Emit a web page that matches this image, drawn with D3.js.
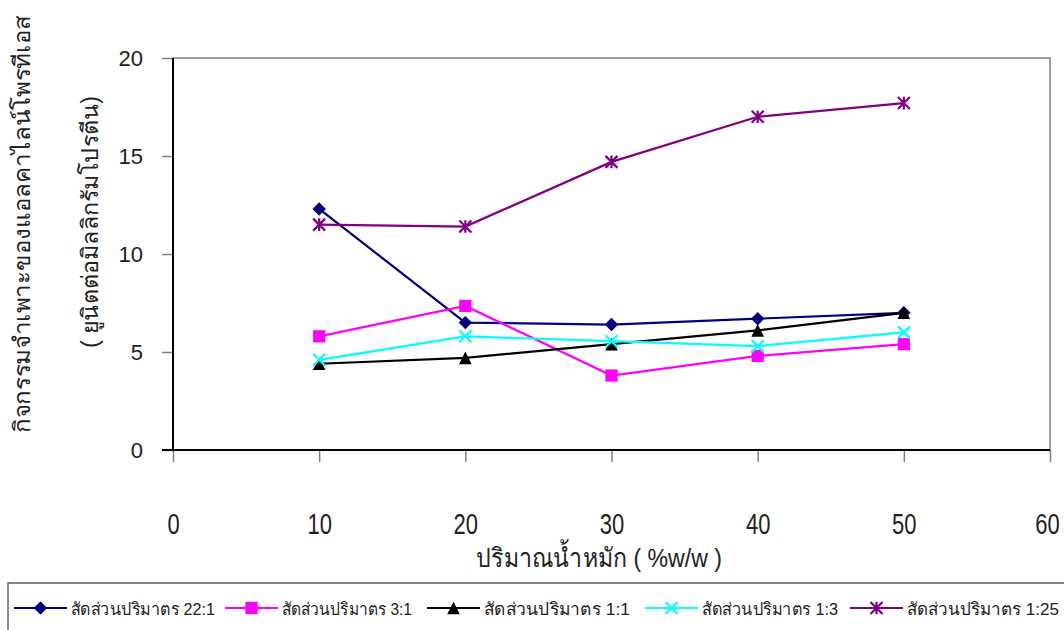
<!DOCTYPE html>
<html>
<head>
<meta charset="utf-8">
<script src="https://cdn.jsdelivr.net/npm/d3@7"></script>
<style>
  html, body { margin: 0; padding: 0; background: #ffffff; }
  svg { display: block; }
  text { font-family: "Liberation Sans", Arial, sans-serif; fill: #222; }
</style>
</head>
<body>
<svg id="chart" width="1064" height="630"></svg>
<script>
// Fermentation weight (%w/w) on the x axis
const weights = [10, 20, 30, 40, 50];

// Specific activity of alkaline protease (units per mg protein) per volume ratio
const ratio22to1 = [12.3, 6.5, 6.4, 6.7, 7.0];
const ratio3to1  = [5.8, 7.35, 3.8, 4.8, 5.4];
const ratio1to1  = [4.4, 4.7, 5.4, 6.1, 7.0];
const ratio1to3  = [4.6, 5.8, 5.55, 5.3, 6.0];
const ratio1to25 = [11.5, 11.4, 14.7, 17.0, 17.7];

const seriesNames = [
  "สัดส่วนปริมาตร 22:1",
  "สัดส่วนปริมาตร 3:1",
  "สัดส่วนปริมาตร 1:1",
  "สัดส่วนปริมาตร 1:3",
  "สัดส่วนปริมาตร 1:25"
];

const xTicks = [0, 10, 20, 30, 40, 50, 60];
const yTicks = [0, 5, 10, 15, 20];

const xTitle = "ปริมาณน้ำหมัก ( %w/w )";
const yTitle1 = "กิจกรรมจำเพาะของแอลคาไลน์โพรทีเอส";
const yTitle2 = "( ยูนิตต่อมิลลิกรัมโปรตีน)";

// ---- marker shapes -------------------------------------------------------
const diamond = { draw(ctx, size) {
  const r = Math.sqrt(size) / 2;
  ctx.moveTo(0, -r); ctx.lineTo(r, 0); ctx.lineTo(0, r); ctx.lineTo(-r, 0); ctx.closePath();
}};
const square = { draw(ctx, size) {
  const r = Math.sqrt(size) / 2;
  ctx.rect(-r, -r, 2 * r, 2 * r);
}};
const triangle = { draw(ctx, size) {
  const r = Math.sqrt(size) / 2;
  ctx.moveTo(0, -r); ctx.lineTo(r, r); ctx.lineTo(-r, r); ctx.closePath();
}};
const cross = { draw(ctx, size) {
  const r = Math.sqrt(size) / 2;
  ctx.moveTo(-r, -r); ctx.lineTo(r, r);
  ctx.moveTo(r, -r); ctx.lineTo(-r, r);
}};
const star = { draw(ctx, size) {
  const r = Math.sqrt(size) / 2;
  ctx.moveTo(-r, -r); ctx.lineTo(r, r);
  ctx.moveTo(r, -r); ctx.lineTo(-r, r);
  ctx.moveTo(0, -r * 1.05); ctx.lineTo(0, r * 1.05);
}};

const series = [
  { name: seriesNames[0], values: ratio22to1, color: "#000080", shape: diamond,  size: 180, filled: true },
  { name: seriesNames[1], values: ratio3to1,  color: "#ff00ff", shape: square,   size: 150, filled: true },
  { name: seriesNames[2], values: ratio1to1,  color: "#000000", shape: triangle, size: 160, filled: true },
  { name: seriesNames[3], values: ratio1to3,  color: "#00ffff", shape: cross,    size: 144, filled: false },
  { name: seriesNames[4], values: ratio1to25, color: "#800080", shape: star,     size: 144, filled: false }
];

const svg = d3.select("#chart");

// ---- plot area ----------------------------------------------------------
const plotLeft = 173, plotRight = 1050, plotTop = 58, plotBottom = 450;

const x = d3.scaleLinear().domain([0, 60]).range([plotLeft, plotRight]);
const y = d3.scaleLinear().domain([0, 20]).range([plotBottom, plotTop]);

// plot frame (top & right edges)
svg.append("path")
  .attr("d", `M${plotLeft},${plotTop}H${plotRight}V${plotBottom}`)
  .attr("fill", "none")
  .attr("stroke", "#808080")
  .attr("stroke-width", 1.5);

// y axis
const yAxis = svg.append("g")
  .attr("transform", `translate(${plotLeft},0)`)
  .call(d3.axisLeft(y).tickValues(yTicks).tickSize(11).tickPadding(19).tickFormat(d3.format("d")));
yAxis.select(".domain").remove();
yAxis.selectAll(".tick line").attr("stroke", "#808080").attr("stroke-width", 1.5);
yAxis.selectAll(".tick text")
  .attr("font-size", 22)
  .attr("fill", "#222")
  .style("font-family", "'Liberation Sans', Arial, sans-serif");
svg.append("line")
  .attr("x1", plotLeft).attr("x2", plotLeft)
  .attr("y1", plotTop).attr("y2", plotBottom)
  .attr("stroke", "#000").attr("stroke-width", 2);

// x axis (tall, condensed tick labels)
const xAxis = svg.append("g")
  .attr("transform", `translate(0,${plotBottom})`)
  .call(d3.axisBottom(x).tickValues(xTicks).tickSize(12).tickFormat(d3.format("d")));
xAxis.select(".domain").remove();
xAxis.selectAll(".tick line").attr("stroke", "#808080").attr("stroke-width", 1.5);
xAxis.selectAll(".tick text")
  .attr("y", 0).attr("dy", 0)
  .attr("transform", d => `translate(${d === 60 ? -3 : 0},84) scale(1,1.3)`)
  .attr("font-size", 22)
  .attr("fill", "#222")
  .style("font-family", "'Liberation Sans', Arial, sans-serif");
svg.append("line")
  .attr("x1", plotLeft - 11).attr("x2", plotRight)
  .attr("y1", plotBottom).attr("y2", plotBottom)
  .attr("stroke", "#000").attr("stroke-width", 2);

// axis titles
svg.append("text")
  .attr("x", 476).attr("y", 567)
  .attr("font-size", 26)
  .attr("textLength", 246).attr("lengthAdjust", "spacingAndGlyphs")
  .text(xTitle);

svg.append("text")
  .attr("transform", "translate(30,224) rotate(-90)")
  .attr("text-anchor", "middle")
  .attr("font-size", 23)
  .attr("textLength", 418).attr("lengthAdjust", "spacingAndGlyphs")
  .text(yTitle1);

svg.append("text")
  .attr("transform", "translate(98,222) rotate(-90)")
  .attr("text-anchor", "middle")
  .attr("font-size", 23)
  .attr("textLength", 252).attr("lengthAdjust", "spacingAndGlyphs")
  .text(yTitle2);

// ---- series --------------------------------------------------------------
const line = d3.line()
  .x((d, i) => x(weights[i]))
  .y(d => y(d));

const groups = svg.append("g").selectAll("g")
  .data(series)
  .join("g");

groups.append("path")
  .attr("d", s => line(s.values))
  .attr("fill", "none")
  .attr("stroke", s => s.color)
  .attr("stroke-width", 2.2);

groups.each(function (s) {
  d3.select(this).selectAll("path.marker")
    .data(s.values)
    .join("path")
    .attr("class", "marker")
    .attr("transform", (d, i) => `translate(${x(weights[i])},${y(d)})`)
    .attr("d", d3.symbol().type(s.shape).size(s.size))
    .attr("fill", s.filled ? s.color : "none")
    .attr("stroke", s.color)
    .attr("stroke-width", s.filled ? 0 : 2.2);
});

// ---- legend ----------------------------------------------------------------
svg.append("rect")
  .attr("x", 8).attr("y", 583)
  .attr("width", 1080).attr("height", 60)
  .attr("fill", "#fff")
  .attr("stroke", "#606060")
  .attr("stroke-width", 1.5);

const legendX = [14, 225, 427, 645, 850];
const legendTextWidth = [144, 130, 146, 136, 152];
const legendY = 608;
const legend = svg.append("g").selectAll("g")
  .data(series)
  .join("g")
  .attr("transform", (s, i) => `translate(${legendX[i]},${legendY})`);

legend.append("line")
  .attr("x1", 0).attr("x2", 53)
  .attr("stroke", s => s.color)
  .attr("stroke-width", 2.2);
legend.append("path")
  .attr("transform", "translate(26.5,0)")
  .attr("d", s => d3.symbol().type(s.shape).size(s.size)())
  .attr("fill", s => s.filled ? s.color : "none")
  .attr("stroke", s => s.color)
  .attr("stroke-width", s => s.filled ? 0 : 2.2);
legend.append("text")
  .attr("x", 57).attr("y", 7)
  .attr("font-size", 17)
  .attr("fill", "#333")
  .attr("textLength", (s, i) => legendTextWidth[i])
  .attr("lengthAdjust", "spacingAndGlyphs")
  .text(s => s.name);
</script>
</body>
</html>
